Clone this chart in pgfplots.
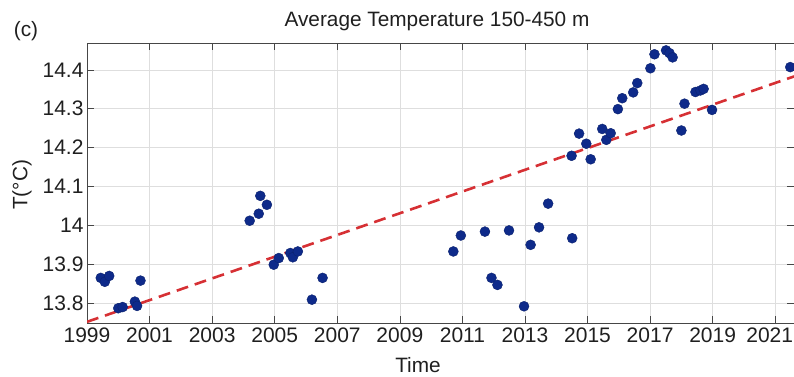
\documentclass[border=0pt]{standalone}
\usepackage{pgfplots}
\pgfplotsset{compat=1.18}
\usepackage{fontspec}
\setmainfont{Liberation Sans}
\definecolor{ptblue}{RGB}{14,42,138}
\definecolor{trendred}{RGB}{214,48,52}
\definecolor{axgray}{RGB}{70,70,70}
\begin{document}
\begin{tikzpicture}
\begin{axis}[
  scale only axis,
  width=707pt, height=280pt,
  xmin=1999, xmax=2021.6,
  ymin=13.749, ymax=14.469,
  xtick={1999,2001,2003,2005,2007,2009,2011,2013,2015,2017,2019,2021},
  xticklabels={1999,2001,2003,2005,2007,2009,2011,2013,2015,2017,2019,\kern-11pt 2021},
  ytick={13.8,13.9,14,14.1,14.2,14.3,14.4},
  yticklabels={13.8,13.9,14,14.1,14.2,14.3,14.4},
  tick align=inside,
  major tick length=7pt,
  tick style={axgray, line width=0.6pt},
  axis line style={axgray, line width=0.8pt},
  grid=major,
  major grid style={black!13, line width=0.6pt},
  tick label style={font=\fontsize{21}{24}\selectfont, text=black!88},
  /pgf/number format/assume math mode=true,
  xticklabel style={yshift=-1pt},
  yticklabel style={xshift=0pt},
  clip marker paths=true,
  clip=true,
]
\addplot[trendred, line width=2.6pt, dash pattern=on 12pt off 7pt] coordinates {(1999,13.752) (2021.6,14.383)};
\addplot[only marks, mark=*, mark size=5pt, mark options={fill=ptblue, draw=ptblue!80!black, line width=0.4pt}] coordinates {
(1999.44,13.865) (1999.57,13.855) (1999.71,13.870)
(2000.00,13.787) (2000.14,13.790) (2000.53,13.804) (2000.60,13.793) (2000.71,13.858)
(2004.20,14.012) (2004.49,14.030) (2004.54,14.076) (2004.75,14.053)
(2004.97,13.899) (2005.13,13.916) (2005.50,13.929) (2005.58,13.918) (2005.74,13.933)
(2006.19,13.809) (2006.53,13.865)
(2010.71,13.933) (2010.95,13.974) (2011.72,13.984) (2011.93,13.865) (2012.12,13.847)
(2012.49,13.987) (2012.97,13.792) (2013.18,13.950) (2013.45,13.995) (2013.74,14.056)
(2014.51,13.967) (2014.49,14.179) (2014.73,14.236) (2014.96,14.210) (2015.10,14.170)
(2015.47,14.248) (2015.60,14.220) (2015.74,14.237) (2015.97,14.299) (2016.11,14.327)
(2016.46,14.342) (2016.59,14.366) (2017.01,14.404) (2017.14,14.440) (2017.51,14.450)
(2017.62,14.443) (2017.72,14.432) (2018.00,14.244) (2018.10,14.313) (2018.45,14.343)
(2018.61,14.347) (2018.71,14.351) (2018.98,14.297) (2021.48,14.407)
};
\end{axis}
% labels placed relative to the axis box
\node[font=\fontsize{20.8}{24}\selectfont, text=black!88] at (437pt-87pt,323pt-21pt) {Average Temperature 150-450 m};
\node[font=\fontsize{20.8}{24}\selectfont, text=black!88] at (26pt-87pt,323pt-31pt) {(c)};
\node[font=\fontsize{20.8}{24}\selectfont, text=black!88] at (418pt-87pt,323pt-365pt) {Time};
\node[font=\fontsize{20.8}{24}\selectfont, text=black!88, rotate=90] at (22pt-87pt,323pt-185pt) {T(°C)};
\pgfresetboundingbox
\path[use as bounding box] (-87pt,-53pt) rectangle (707pt,323pt);
\end{tikzpicture}
\end{document}
